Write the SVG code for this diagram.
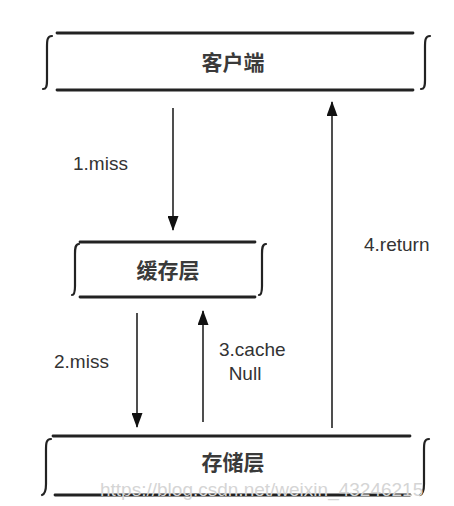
<svg xmlns="http://www.w3.org/2000/svg" width="454" height="506" viewBox="0 0 454 506">
<defs>
<marker id="arr" markerWidth="15" markerHeight="11" refX="14" refY="5.5" orient="auto" markerUnits="userSpaceOnUse" viewBox="0 0 15 11">
<path d="M0,0 L15,5.5 L0,11 Z" fill="#111"/>
</marker>
</defs>
<style>
.bar{stroke:#222;stroke-width:2.8;fill:none;stroke-linecap:round}
.brace{stroke:#222;stroke-width:2.2;fill:none;stroke-linecap:round}
.cn{font-family:"Noto Sans CJK SC","Noto Sans CJK JP",sans-serif;font-size:21px;font-weight:bold;fill:#3a3a3a;text-anchor:middle}
.lbl{font-family:"Liberation Sans",Arial,sans-serif;font-size:19px;fill:#333}
.conn{stroke:#222;stroke-width:1.6;fill:none}
.wm{font-family:"Liberation Sans",Arial,sans-serif;font-size:19px;fill:#d5d5d5}
</style>
<rect width="454" height="506" fill="#fff"/>
<g id="client">
<line class="bar" x1="57" y1="33" x2="413" y2="33"/>
<line class="bar" x1="57" y1="90" x2="413" y2="90"/>
<path class="brace" d="M52,36 C47,36 47,41 47,47 L47,80 C47,87 46,89 43,89"/>
<path class="brace" d="M430,36 C425,36 425,41 425,47 L425,80 C425,87 424,89 421,89"/>
<text class="cn" x="233" y="70">客户端</text>
</g>
<g id="cache">
<line class="bar" x1="80" y1="242" x2="255" y2="242"/>
<line class="bar" x1="80" y1="297" x2="255" y2="297"/>
<path class="brace" d="M79,244 C75,244 75,249 75,254 L75,286 C75,292 74,295 72,295"/>
<path class="brace" d="M266,244 C262,244 262,249 262,254 L262,286 C262,292 261,295 259,295"/>
<text class="cn" x="168" y="278">缓存层</text>
</g>
<g id="storage">
<line class="bar" x1="53" y1="436" x2="410" y2="436"/>
<line class="bar" x1="55" y1="495" x2="410" y2="495"/>
<path class="brace" d="M51,439 C46,439 46,444 46,450 L46,484 C46,490 45,494 42,495"/>
<path class="brace" d="M429,439 C424,439 424,444 424,450 L424,484 C424,490 423,494 420,495"/>
<text class="cn" x="233" y="470">存储层</text>
</g>
<g id="connectors">
<line class="conn" x1="173" y1="108" x2="173" y2="230" marker-end="url(#arr)"/>
<line class="conn" x1="332" y1="428" x2="332" y2="102" marker-end="url(#arr)"/>
<line class="conn" x1="137" y1="313" x2="137" y2="427" marker-end="url(#arr)"/>
<line class="conn" x1="203" y1="422" x2="203" y2="311" marker-end="url(#arr)"/>
<text class="lbl" x="73" y="170">1.miss</text>
<text class="lbl" x="364" y="251">4.return</text>
<text class="lbl" x="54" y="368">2.miss</text>
<text class="lbl" x="219" y="356">3.cache</text>
<text class="lbl" x="245" y="380" text-anchor="middle">Null</text>
</g>
<text class="wm" x="100" y="496">https://blog.csdn.net/weixin_43246215</text>
</svg>
